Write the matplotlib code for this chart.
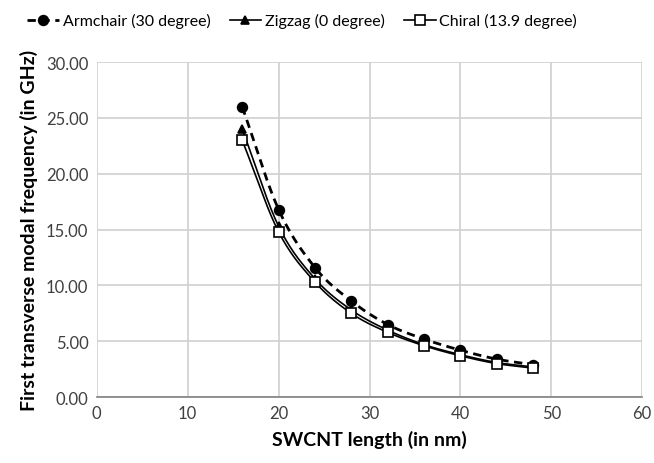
import numpy as np
import matplotlib
matplotlib.use("Agg")
import matplotlib.pyplot as plt

plt.rcParams['font.family'] = ['Lato', 'DejaVu Sans']

length = [16, 20, 24, 28, 32, 36, 40, 44, 48]
armchair = [26.0, 16.8, 11.6, 8.6, 6.5, 5.2, 4.2, 3.4, 2.9]
zigzag = [24.0, 15.3, 10.6, 7.8, 6.0, 4.7, 3.8, 3.1, 2.7]
chiral = [23.0, 14.8, 10.3, 7.5, 5.8, 4.6, 3.7, 3.0, 2.6]
labels = ["Armchair (30 degree)", "Zigzag (0 degree)", "Chiral (13.9 degree)"]


def smooth(x, y, n=20):
    # Excel-style smoothed line (Catmull-Rom through the points)
    x = np.asarray(x, float)
    y = np.asarray(y, float)
    px = np.concatenate([[2 * x[0] - x[1]], x, [2 * x[-1] - x[-2]]])
    py = np.concatenate([[2 * y[0] - y[1]], y, [2 * y[-1] - y[-2]]])
    xs, ys = [], []
    t = np.linspace(0, 1, n)
    for i in range(1, len(px) - 2):
        for p, out in ((px, xs), (py, ys)):
            p0, p1, p2, p3 = p[i - 1], p[i], p[i + 1], p[i + 2]
            out.extend(0.5 * ((2 * p1) + (-p0 + p2) * t
                              + (2 * p0 - 5 * p1 + 4 * p2 - p3) * t ** 2
                              + (-p0 + 3 * p1 - 3 * p2 + p3) * t ** 3))
    return xs, ys


fig = plt.figure(figsize=(6.54, 4.64), dpi=100)
ax = fig.add_axes([0.148, 0.142, 0.834, 0.722])

styles = [
    dict(ls=(0, (3, 2)), lw=2.0, marker='o', ms=7, mfc='black'),
    dict(ls='-', lw=1.2, marker='^', ms=6, mfc='black'),
    dict(ls='-', lw=1.2, marker='s', ms=6.5, mfc='white'),
]
for y, lab, st in zip([armchair, zigzag, chiral], labels, styles):
    sx, sy = smooth(length, y)
    ax.plot(sx, sy, color='black', ls=st['ls'], lw=st['lw'])
    ax.plot(length, y, ls='none', marker=st['marker'], ms=st['ms'],
            mfc=st['mfc'], mec='black', mew=1.2)
    ax.plot([], [], color='black', ls=st['ls'], lw=st['lw'], marker=st['marker'],
            ms=st['ms'], mfc=st['mfc'], mec='black', mew=1.2, label=lab)

ax.set_xlim(0, 60)
ax.set_ylim(0, 30)
ax.set_xticks(range(0, 61, 10))
ax.set_yticks(np.arange(0, 30.1, 5))
ax.set_yticklabels([f"{v:.2f}" for v in np.arange(0, 30.1, 5)])
ax.grid(True, color='#d0d0d0', lw=1.2)
ax.set_axisbelow(True)
for s in ['top', 'right', 'left']:
    ax.spines[s].set_visible(False)
ax.spines['bottom'].set_color('#808080')
ax.spines['bottom'].set_linewidth(1.2)
ax.tick_params(length=0, labelsize=12, pad=6, colors='#404040')
ax.set_xlabel("SWCNT length (in nm)", fontsize=14, fontweight='bold', labelpad=6)
ax.set_ylabel("First transverse modal frequency (in GHz)", fontsize=14,
              fontweight='bold', labelpad=6)

fig.legend(loc='upper left', bbox_to_anchor=(0.02, 1.0), ncol=3, frameon=False,
           fontsize=11.5, handlelength=2.0, columnspacing=1.2, handletextpad=0.2)

fig.savefig("out.png", dpi=100)
